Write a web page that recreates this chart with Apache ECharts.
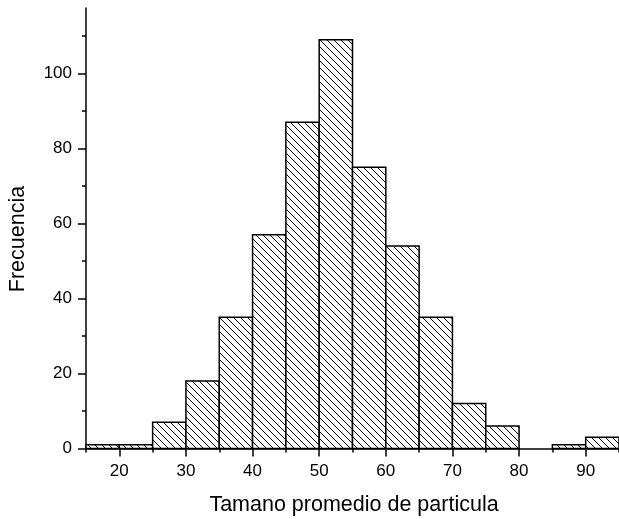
<!DOCTYPE html>
<html>
<head>
<meta charset="utf-8">
<script src="https://cdn.jsdelivr.net/npm/echarts@6/dist/echarts.min.js"></script>
<style>
  html, body { margin: 0; padding: 0; background: #fff; }
  #chart { width: 619px; height: 519px; }
</style>
</head>
<body>
<div id="chart"></div>
<script>
// Histogram bins (lower and upper edge) and their counts
const binStart = [15, 20, 25, 30, 35, 40, 45, 50, 55, 60, 65, 70, 75, 80, 85, 90];
const binEnd   = [20, 25, 30, 35, 40, 45, 50, 55, 60, 65, 70, 75, 80, 85, 90, 95];
const counts   = [1, 1, 7, 18, 35, 57, 87, 109, 75, 54, 35, 12, 6, 0, 1, 3];

// Axis ticks and labels
const xMajor = [20, 30, 40, 50, 60, 70, 80, 90];
const xMinor = [15, 25, 35, 45, 55, 65, 75, 85, 95];
const yMajor = [0, 20, 40, 60, 80, 100];
const yMinor = [10, 30, 50, 70, 90, 110];

const xTitle = 'Tamano promedio de particula';
const yTitle = 'Frecuencia';

const FONT = '"Liberation Sans", Arial, sans-serif';

// Diagonal "\" hatch tile
function hatchTile(size) {
  const c = document.createElement('canvas');
  c.width = size; c.height = size;
  const g = c.getContext('2d');
  g.fillStyle = '#fff';
  g.fillRect(0, 0, size, size);
  g.strokeStyle = '#000';
  g.lineWidth = 1;
  for (let k = -1; k <= 1; k++) {
    g.beginPath();
    g.moveTo(0, k * size);
    g.lineTo(size, size + k * size);
    g.stroke();
  }
  return c;
}
const hatch = { image: hatchTile(7), repeat: 'repeat' };

const data = binStart.map((s, i) => [s, binEnd[i], counts[i]]);

const chart = echarts.init(document.getElementById('chart'), null, { renderer: 'canvas' });

const lineStyle = { color: '#000', width: 1.5 };

chart.setOption({
  animation: false,
  backgroundColor: '#fff',
  grid: { left: 86, top: 8, right: -3, bottom: 70.5, containLabel: false },
  xAxis: [
    {
      type: 'value', min: 15, max: 95, position: 'bottom',
      splitLine: { show: false },
      axisLine: { show: true, onZero: false, lineStyle },
      axisTick: { show: true, customValues: xMajor, length: 8, lineStyle },
      axisLabel: { customValues: xMajor, fontSize: 17, color: '#000', fontFamily: FONT, margin: 14 }
    },
    {
      type: 'value', min: 15, max: 95, position: 'bottom',
      splitLine: { show: false },
      axisLine: { show: false },
      axisTick: { show: true, customValues: xMinor, length: 4, lineStyle },
      axisLabel: { show: false }
    }
  ],
  yAxis: [
    {
      type: 'value', min: 0, max: 117.5, position: 'left',
      splitLine: { show: false },
      axisLine: { show: true, onZero: false, lineStyle },
      axisTick: { show: true, customValues: yMajor, length: 8, lineStyle },
      axisLabel: { customValues: yMajor, fontSize: 17, color: '#000', fontFamily: FONT, margin: 14 }
    },
    {
      type: 'value', min: 0, max: 117.5, position: 'left',
      splitLine: { show: false },
      axisLine: { show: false },
      axisTick: { show: true, customValues: yMinor, length: 4, lineStyle },
      axisLabel: { show: false }
    }
  ],
  series: [{
    type: 'custom',
    xAxisIndex: 0,
    yAxisIndex: 0,
    data: data,
    encode: { x: [0, 1], y: 2 },
    renderItem: function (params, api) {
      const v = api.value(2);
      if (!v) return null;
      const p0 = api.coord([api.value(0), v]);
      const p1 = api.coord([api.value(1), 0]);
      return {
        type: 'rect',
        shape: { x: p0[0], y: p0[1], width: p1[0] - p0[0], height: p1[1] - p0[1] },
        style: { fill: hatch, stroke: '#000', lineWidth: 1.5 }
      };
    },
    z: 1
  }],
  graphic: [
    {
      type: 'text', x: 354, y: 505,
      style: { text: xTitle, fontSize: 21.5, fontFamily: FONT, fill: '#000', align: 'center', verticalAlign: 'middle' }
    },
    {
      type: 'text', x: 18, y: 239, rotation: Math.PI / 2,
      style: { text: yTitle, fontSize: 21.5, fontFamily: FONT, fill: '#000', align: 'center', verticalAlign: 'middle' }
    }
  ]
});
</script>
</body>
</html>
